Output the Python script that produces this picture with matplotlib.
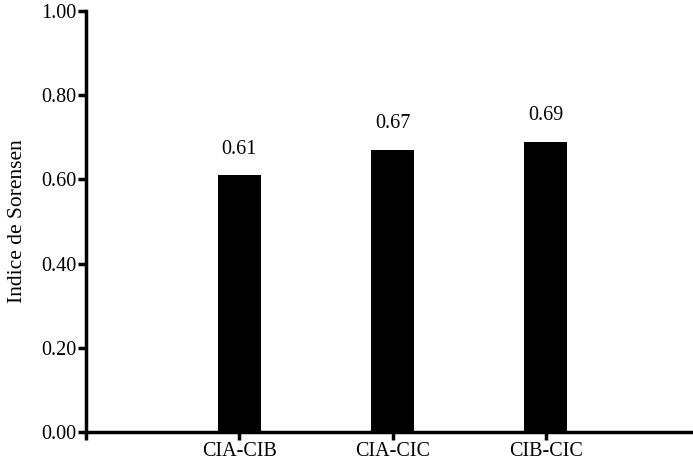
import matplotlib
matplotlib.use("Agg")
import matplotlib.pyplot as plt

# dados
pares = ["CIA-CIB", "CIA-CIC", "CIB-CIC"]
indice = [0.61, 0.67, 0.69]
rotulos_y = ["0.00", "0.20", "0.40", "0.60", "0.80", "1.00"]
valores_y = [0.0, 0.2, 0.4, 0.6, 0.8, 1.0]

plt.rcParams["font.family"] = ["Liberation Serif", "DejaVu Serif"]

fig = plt.figure(figsize=(6.93, 4.70), dpi=100)
ax = fig.add_axes([86 / 693, 38 / 470, 1 - 86 / 693, 421 / 470])

posicoes = [1, 2, 3]
ax.bar(posicoes, indice, width=0.28, color="black")

for x, v in zip(posicoes, indice):
    ax.text(x, v + 0.062, f"{v:.2f}", ha="center", va="center", fontsize=14.5)

ax.set_xlim(0, 3.96)
ax.set_ylim(0, 1.0)
ax.set_xticks([0] + posicoes)
ax.set_xticklabels([""] + pares, fontsize=14.5)
ax.set_yticks(valores_y)
ax.set_yticklabels(rotulos_y, fontsize=14.5)
ax.set_ylabel("Indice de Sorensen", fontsize=15.5, labelpad=10)

for lado in ["top", "right"]:
    ax.spines[lado].set_visible(False)
for lado in ["left", "bottom"]:
    ax.spines[lado].set_linewidth(2.5)
ax.tick_params(axis="both", width=2.5, length=6, direction="out", pad=1)

fig.savefig("out.png", dpi=100)
